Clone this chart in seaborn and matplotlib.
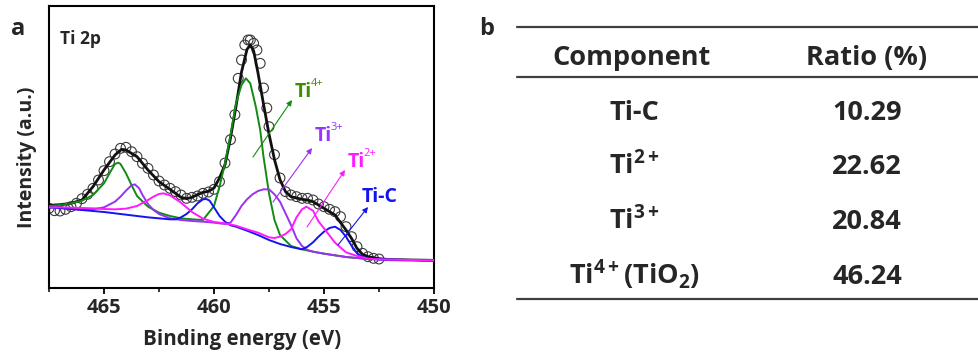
import numpy as np
import pandas as pd
import matplotlib
matplotlib.use("Agg")
import matplotlib.pyplot as plt
import seaborn as sns
from matplotlib.lines import Line2D

# ---------------- data (binding energy in eV, intensity in a.u.) ----------------
data_be = [467.5, 467.25, 467.0, 466.75, 466.5, 466.25, 466.0, 465.75, 465.5, 465.25,
           465.0, 464.75, 464.5, 464.25, 464.0, 463.75, 463.5, 463.25, 463.0, 462.75,
           462.5, 462.25, 462.0, 461.75, 461.5, 461.25, 461.0, 460.75, 460.5, 460.25,
           460.0, 459.75, 459.5, 459.25, 459.05, 458.9, 458.75, 458.6, 458.45, 458.35,
           458.2, 458.05, 457.9, 457.75, 457.6, 457.5, 457.25, 457.0, 456.75, 456.5,
           456.25, 456.0, 455.75, 455.5, 455.25, 455.0, 454.75, 454.5, 454.25, 454.0,
           453.75, 453.5, 453.25, 453.0, 452.75, 452.5]
data_int = [239, 232, 231, 236, 244, 254, 268, 281, 299, 324,
            352, 379, 402, 419, 422, 409, 394, 374, 359, 339,
            321, 309, 299, 289, 279, 269, 272, 276, 284, 288,
            296, 319, 375, 445, 520, 629, 684, 729, 744, 744,
            734, 714, 674, 600, 540, 484, 400, 330, 289, 279,
            274, 269, 269, 264, 252, 244, 236, 229, 214, 184,
            154, 124, 104, 94, 89, 87]

env_be = [467.5, 467.0, 466.5, 466.0, 465.5, 465.0, 464.5, 464.2, 464.0, 463.5, 463.0,
          462.5, 462.0, 461.5, 461.25, 461.0, 460.75, 460.5, 460.25, 460.0, 459.75, 459.5,
          459.25, 459.0, 458.75, 458.5, 458.35, 458.2, 458.0, 457.75, 457.5, 457.25, 457.0,
          456.75, 456.5, 456.0, 455.75, 455.5, 455.0, 454.5, 454.0, 453.75, 453.5, 453.25,
          453.0, 452.5, 452.0, 451.0, 450.0]
env_int = [248, 250, 254, 264, 304, 354, 399, 416, 414, 394, 354,
           319, 296, 272, 268, 272, 280, 287, 290, 300, 330, 370,
           450, 545, 648, 716, 729, 712, 645, 552, 462, 385, 325,
           289, 274, 266, 264, 259, 239, 219, 174, 149, 119, 101,
           94, 88, 85, 84, 83]

ti4_be = [467.5, 467.0, 466.5, 466.0, 465.5, 465.0, 464.75, 464.5, 464.35, 464.25, 464.0,
          463.75, 463.5, 463.0, 462.5, 462.0, 461.5, 461.0, 460.5, 460.0, 459.75, 459.5,
          459.25, 459.0, 458.75, 458.55, 458.35, 458.1, 457.9, 457.75, 457.5, 457.25,
          457.0, 456.5, 456.0, 455.5, 455.0, 454.0, 453.0, 452.0, 450.0]
ti4_int = [246, 249, 254, 262, 279, 314, 344, 372, 376, 372, 344,
           309, 276, 244, 226, 216, 209, 206, 204, 246, 304, 374,
           459, 554, 609, 629, 614, 544, 474, 394, 284, 204,
           159, 126, 116, 109, 103, 93, 87, 85, 83]

ti3_be = [467.5, 467.0, 466.5, 466.0, 465.5, 465.0, 464.5, 464.25, 464.0, 463.75, 463.6,
          463.4, 463.25, 463.0, 462.75, 462.5, 462.0, 461.5, 461.0, 460.5, 460.0, 459.5,
          459.25, 459.0, 458.75, 458.5, 458.25, 458.0, 457.75, 457.5, 457.25, 457.0,
          456.75, 456.5, 456.25, 456.0, 455.75, 455.5, 455.0, 454.0, 453.0, 452.0, 450.0]
ti3_int = [242, 240, 237, 235, 236, 242, 259, 274, 292, 308, 311,
           299, 279, 252, 234, 222, 209, 204, 201, 199, 196, 192,
           196, 219, 246, 266, 281, 291, 296, 296, 281, 259,
           224, 189, 149, 126, 114, 109, 103, 93, 87, 85, 83]

ti2_be = [467.5, 467.0, 466.5, 466.0, 465.5, 465.0, 464.5, 464.0, 463.5, 463.0, 462.75,
          462.5, 462.3, 462.0, 461.5, 461.0, 460.5, 460.0, 459.5, 459.0, 458.5, 458.0,
          457.5, 457.25, 457.0, 456.75, 456.5, 456.25, 456.0, 455.8, 455.5, 455.25,
          455.0, 454.5, 454.0, 453.5, 453.0, 452.5, 452.0, 450.0]
ti2_int = [242, 242, 241, 240, 239, 237, 236, 238, 246, 264, 274,
           282, 284, 278, 256, 228, 208, 198, 194, 187, 176, 166,
           152, 150, 154, 162, 176, 212, 236, 244, 232, 200,
           179, 136, 107, 96, 88, 86, 85, 83]

tic_be = [467.5, 467.0, 466.5, 466.0, 465.5, 465.0, 464.5, 464.0, 463.5, 463.0, 462.5,
          462.0, 461.75, 461.5, 461.25, 461.0, 460.75, 460.5, 460.35, 460.2, 460.0, 459.75,
          459.5, 459.25, 459.0, 458.5, 458.0, 457.5, 457.0, 456.5, 456.0, 455.75, 455.5,
          455.25, 455.0, 454.75, 454.5, 454.25, 454.0, 453.75, 453.5, 453.25, 453.0,
          452.5, 452.0, 450.0]
tic_int = [242, 240, 237, 234, 231, 228, 224, 220, 216, 212, 209,
           206, 206, 212, 222, 236, 254, 266, 267, 262, 242, 216,
           199, 188, 184, 172, 159, 144, 132, 123, 116, 124, 137,
           154, 169, 180, 184, 174, 154, 127, 104, 94, 88,
           86, 85, 83]

x_ticks = [465, 460, 455, 450]

table_components = ["Ti-C", "Ti$^{\\mathregular{2+}}$", "Ti$^{\\mathregular{3+}}$",
                    "Ti$^{\\mathregular{4+}}$(TiO$_{\\mathregular{2}}$)"]
table_ratios = ["10.29", "22.62", "20.84", "46.24"]

# ---------------- styling ----------------
sns.set_theme(style="ticks")
plt.rcParams["font.family"] = ["Open Sans", "DejaVu Sans"]
plt.rcParams["font.weight"] = "bold"
plt.rcParams["mathtext.fontset"] = "custom"
plt.rcParams["mathtext.rm"] = "Open Sans:bold"
plt.rcParams["mathtext.bf"] = "Open Sans:bold"
plt.rcParams["mathtext.it"] = "Open Sans:bold"

W, H = 979, 356
fig = plt.figure(figsize=(W / 100, H / 100), dpi=100)
fig.patch.set_facecolor("white")

def fx(px):
    return px / W

def fy(py):
    return 1 - py / H

ax = fig.add_axes([fx(49), fy(288), fx(434) - fx(49), fy(6) - fy(288)])

c_green, c_purple, c_mag, c_blue = "#138a13", "#9b30f5", "#ff1aff", "#1414f0"

sns.scatterplot(x=data_be, y=data_int, ax=ax, s=50, marker="o",
                facecolor="none", edgecolor="#3a3a3a", linewidth=0.8, zorder=2, legend=False)
sns.lineplot(x=env_be, y=env_int, ax=ax, sort=False, estimator=None,
             color="#111111", lw=2.0, zorder=2.5)
sns.lineplot(x=ti4_be, y=ti4_int, ax=ax, sort=False, estimator=None, color=c_green, lw=1.4, zorder=3)
sns.lineplot(x=ti3_be, y=ti3_int, ax=ax, sort=False, estimator=None, color=c_purple, lw=1.4, zorder=3.1)
sns.lineplot(x=tic_be, y=tic_int, ax=ax, sort=False, estimator=None, color=c_blue, lw=1.4, zorder=3.2)
sns.lineplot(x=ti2_be, y=ti2_int, ax=ax, sort=False, estimator=None, color=c_mag, lw=1.4, zorder=3.3)

ax.set_xlim(467.5, 450)
ax.set_ylim(0, 846)
ax.set_yticks([])
ax.set_xticks(x_ticks)
ax.set_xticks([467.5, 462.5, 457.5, 452.5], minor=True)
ax.tick_params(axis="x", which="major", direction="out", length=4, width=1.3,
               labelsize=14.5, pad=3, color="black")
ax.tick_params(axis="x", which="minor", direction="out", length=3, width=1.1, color="black")
for lab in ax.get_xticklabels():
    lab.set_fontweight("bold")
for sp in ax.spines.values():
    sp.set_visible(True)
    sp.set_linewidth(1.5)
    sp.set_color("black")
ax.set_xlabel("")
ax.set_ylabel("")

fig.text(fx(242), fy(339), "Binding energy (eV)", ha="center", va="center",
         fontsize=14.8, fontweight="bold")
fig.text(fx(27.5), fy(157), "Intensity (a.u.)", ha="center", va="center",
         rotation=90, fontsize=14, fontweight="bold")
fig.text(fx(11), fy(35), "a", ha="left", va="baseline", fontsize=17, fontweight="bold")
fig.text(fx(60), fy(44.5), "Ti 2p", ha="left", va="baseline", fontsize=12.5, fontweight="bold")

# annotation labels with arrows
def px2data(x, y):
    return 450 + (434 - x) / 22.0, 864 - 3.0 * y

labels = [
    ("4+", (253, 157), (292, 100), (295, 97), c_green, "#3c8f00"),
    ("3+", (273, 202), (312, 148), (315, 141), c_purple, "#9933ff"),
    ("2+", (307, 227), (345, 170), (348, 167), c_mag, "#ff1aff"),
    ("-C", (338, 245), (368, 207), (362, 202), c_blue, "#1414f0"),
]
for sup, p0, p1, pt, lc, tc in labels:
    ax.annotate("", xy=px2data(*p1), xytext=px2data(*p0),
                arrowprops=dict(arrowstyle="-|>", color=lc, lw=0.8, mutation_scale=8,
                                shrinkA=0, shrinkB=0), zorder=4)
    tx, ty = px2data(*pt)
    if sup == "-C":
        ax.text(tx, ty, "Ti-C", color=tc, fontsize=14, fontweight="bold",
                ha="left", va="baseline", zorder=5)
    else:
        t = ax.text(tx, ty, "Ti", color=tc, fontsize=14, fontweight="bold",
                    ha="left", va="baseline", zorder=5)
        ax.annotate(sup, xy=(0.93, 0.9), xycoords=t, color=tc, fontsize=8,
                    fontweight="normal", ha="left", va="center", zorder=5)

# ---------------- table (panel b) ----------------
fig.text(fx(479), fy(35), "b", ha="left", va="baseline", fontsize=17, fontweight="bold")
for yy in (27, 77, 299):
    fig.add_artist(Line2D([fx(517), 1.0], [fy(yy), fy(yy)], color="#404040", lw=1.6))
fig.text(fx(632), fy(65), "Component", ha="center", va="baseline", fontsize=19.5, fontweight="bold")
fig.text(fx(867), fy(65), "Ratio (%)", ha="center", va="baseline", fontsize=19.5, fontweight="bold")
row_base = [120, 174, 229, 284]
for comp, ratio, yb in zip(table_components, table_ratios, row_base):
    fig.text(fx(634), fy(yb), comp, ha="center", va="baseline", fontsize=19.5, fontweight="bold")
    fig.text(fx(867), fy(yb), ratio, ha="center", va="baseline", fontsize=19.5, fontweight="bold")

fig.savefig("out.png", dpi=100)
